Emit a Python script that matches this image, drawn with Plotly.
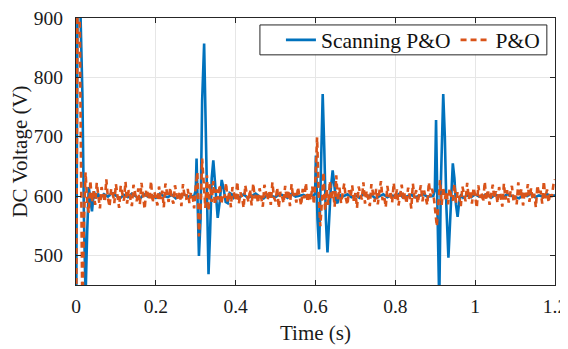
import plotly.graph_objects as go

# ---------------- data ----------------
# Scanning P&O (blue, solid): explicit time / voltage samples
scan_t_start = [0, 0.004, 0.008, 0.012, 0.016, 0.020, 0.024, 0.028, 0.032, 0.036, 0.040, 0.045, 0.050, 0.055]
scan_v_start = [300, 980, 1000, 900, 772, 560, 430, 540, 615, 595, 574, 608, 596, 604]

scan_t_flat1 = [0.06, 0.07, 0.08, 0.09, 0.10, 0.11, 0.12, 0.13, 0.14, 0.15, 0.16, 0.17,
                0.18, 0.19, 0.20, 0.21, 0.22, 0.23, 0.24, 0.25, 0.26, 0.27, 0.28, 0.29]
scan_v_flat1 = [597, 603, 599, 605, 601, 596, 602, 598, 604, 600, 595, 603,
                599, 601, 597, 604, 600, 598, 602, 596, 601, 603, 599, 600]

scan_t_tr1 = [0.296, 0.300, 0.302, 0.305, 0.308, 0.312, 0.316, 0.321, 0.325, 0.329, 0.332, 0.336,
              0.340, 0.344, 0.348, 0.352, 0.355, 0.360, 0.365, 0.370, 0.375, 0.380, 0.385, 0.390, 0.395]
scan_v_tr1 = [600, 610, 663, 580, 499, 560, 760, 857, 720, 520, 468, 540,
              630, 660, 620, 575, 563, 590, 627, 612, 590, 588, 605, 603, 597]

scan_t_flat2 = [0.40, 0.41, 0.42, 0.43, 0.44, 0.45, 0.46, 0.47, 0.48, 0.49,
                0.50, 0.51, 0.52, 0.53, 0.54, 0.55, 0.56, 0.57, 0.58, 0.59]
scan_v_flat2 = [601, 598, 603, 597, 600, 604, 599, 596, 602, 600,
                598, 603, 601, 597, 604, 599, 600, 602, 598, 601]

scan_t_tr2 = [0.595, 0.599, 0.601, 0.605, 0.609, 0.613, 0.618, 0.622, 0.626, 0.630, 0.634, 0.638,
              0.643, 0.648, 0.652, 0.655, 0.660, 0.665]
scan_v_tr2 = [600, 605, 668, 560, 510, 640, 772, 680, 560, 505, 560, 610,
              643, 615, 590, 588, 603, 598]

scan_t_flat3 = [0.67, 0.68, 0.69, 0.70, 0.71, 0.72, 0.73, 0.74, 0.75, 0.76, 0.77, 0.78,
                0.79, 0.80, 0.81, 0.82, 0.83, 0.84, 0.85, 0.86, 0.87, 0.88, 0.89]
scan_v_flat3 = [600, 603, 598, 601, 597, 604, 599, 602, 596, 600, 603, 598,
                601, 599, 604, 597, 600, 602, 598, 601, 603, 599, 600]

scan_t_tr3 = [0.895, 0.899, 0.902, 0.906, 0.910, 0.914, 0.920, 0.924, 0.928, 0.933, 0.937, 0.940,
              0.944, 0.948, 0.952, 0.956, 0.960, 0.965, 0.970]
scan_v_tr3 = [600, 610, 728, 560, 420, 620, 772, 700, 580, 496, 560, 620,
              655, 630, 585, 565, 590, 603, 597]

scan_t_flat4 = [0.98, 0.99, 1.00, 1.01, 1.02, 1.03, 1.04, 1.05, 1.06, 1.07, 1.08, 1.09,
                1.10, 1.11, 1.12, 1.13, 1.14, 1.15, 1.16, 1.17, 1.18, 1.19, 1.20]
scan_v_flat4 = [601, 598, 603, 599, 600, 604, 597, 602, 600, 598, 603, 601,
                599, 596, 602, 600, 604, 598, 601, 599, 603, 600, 601]

# P&O (orange, dashed): samples every 4 ms from 0 to 1.2 s
po_step = 0.004
po_v_start = [300, 1000, 1000, 700, 400, 560, 640, 588, 572, 626, 590]
po_v_noise1 = [608, 585, 622, 597, 579, 615, 603, 590, 628, 596,
               582, 612, 606, 588, 620, 594, 580, 617, 601, 592,
               624, 587, 610, 599, 583, 619, 605, 591, 613, 586,
               622, 598, 578, 611, 604, 593, 625, 589, 607, 600,
               584, 616, 595, 609, 581, 621, 602, 590, 614, 596,
               587, 618, 603, 592, 608, 583, 620, 599, 594, 612,
               588, 606, 601, 579, 617]
po_v_tr1 = [640, 532, 575, 663, 610, 580, 635, 575, 620, 590, 625, 585]
po_v_noise2 = [611, 594, 619, 586, 603, 597, 622, 589, 608, 581,
               615, 600, 592, 624, 587, 606, 598, 580, 618, 603,
               590, 611, 584, 621, 596, 605, 588, 613, 599, 582,
               619, 602, 593, 609, 585, 623, 597, 591, 614, 580,
               607, 600, 588, 617, 594, 610, 583, 620, 598, 605,
               589, 615, 601, 584, 612, 596, 622, 590, 607, 593,
               616, 586]
po_v_tr2 = [630, 699, 600, 549, 590, 640, 575, 612, 585, 625, 595, 608, 582, 635, 592]
po_v_noise3 = [614, 588, 603, 621, 596, 585, 610, 599, 618, 591,
               605, 580, 616, 602, 594, 623, 587, 609, 597, 583,
               620, 604, 590, 612, 586, 607, 625, 593, 600, 581,
               617, 598, 608, 589, 622, 595, 611, 584, 603, 619,
               592, 606, 587, 614, 600, 579, 621, 596, 610, 588,
               604, 618, 591, 609, 597, 585, 623, 599, 612]
po_v_tr3 = [600, 575, 549, 590, 627, 585, 615, 595, 608]
po_v_noise4 = [586, 613, 600, 592, 620, 589, 607, 598, 583, 616,
               604, 591, 622, 595, 609, 587, 614, 601, 580, 618,
               597, 606, 590, 624, 593, 611, 585, 603, 619, 596,
               608, 588, 615, 600, 582, 621, 594, 610, 589, 605,
               617, 592, 601, 586, 623, 598, 612, 584, 607, 599,
               620, 590, 613, 595, 604, 581, 618, 602, 609, 587,
               625, 596, 611, 589, 606, 598, 619, 628]

x_ticks = [0, 0.2, 0.4, 0.6, 0.8, 1.0, 1.2]
x_tick_labels = ["0", "0.2", "0.4", "0.6", "0.8", "1", "1.2"]
y_ticks = [500, 600, 700, 800, 900]
y_tick_labels = ["500", "600", "700", "800", "900"]

# ---------------- assemble ----------------
scan_t = scan_t_start + scan_t_flat1 + scan_t_tr1 + scan_t_flat2 + scan_t_tr2 + scan_t_flat3 + scan_t_tr3 + scan_t_flat4
scan_v = scan_v_start + scan_v_flat1 + scan_v_tr1 + scan_v_flat2 + scan_v_tr2 + scan_v_flat3 + scan_v_tr3 + scan_v_flat4

po_v = po_v_start + po_v_noise1 + po_v_tr1 + po_v_noise2 + po_v_tr2 + po_v_noise3 + po_v_tr3 + po_v_noise4
po_t = [round(i * po_step, 4) for i in range(len(po_v))]

BLUE = "#0072BD"
ORANGE = "#D95319"
AXC = "#262626"
TXT = "#1a1a1a"
FONT = '"Liberation Serif", "Times New Roman", serif'

fig = go.Figure()
fig.add_trace(go.Scatter(x=scan_t, y=scan_v, mode="lines", name="Scanning P&O",
                         line=dict(color=BLUE, width=2.6)))
fig.add_trace(go.Scatter(x=po_t, y=po_v, mode="lines", name="P&O",
                         line=dict(color=ORANGE, width=2.6, dash="6px,4px")))

axis_common = dict(
    showline=True, linecolor=AXC, linewidth=1, mirror="ticks",
    ticks="inside", ticklen=5, tickcolor=AXC, tickwidth=1,
    showgrid=True, gridcolor="#E6E6E6", gridwidth=1,
    zeroline=False, automargin=False,
    tickfont=dict(family=FONT, size=19.5, color=TXT),
    title_font=dict(family=FONT, size=21, color=TXT),
)

fig.update_xaxes(range=[0, 1.2], tickvals=x_ticks, ticktext=x_tick_labels,
                 ticklabelstandoff=4,
                 title_text="Time (s)", title_standoff=8, **axis_common)
fig.update_yaxes(range=[450, 900], tickvals=y_ticks, ticktext=y_tick_labels,
                 ticklabelstandoff=8, ticklabeloverflow="allow",
                 title_text="DC Voltage (V)", title_standoff=0, **axis_common)

# legend frame (matches the boxed legend of the reference)
fig.add_shape(type="rect", xref="paper", yref="paper",
              x0=0.384, x1=0.983, y0=0.862, y1=0.974,
              line=dict(color=AXC, width=1), fillcolor="white", layer="above")

# the page body has an 8px margin, so the figure is 8px smaller and margins are offset
fig.update_layout(
    width=560, height=341,
    margin=dict(l=68, r=13, t=10, b=64),
    paper_bgcolor="white", plot_bgcolor="white",
    font=dict(family=FONT, size=21, color=TXT),
    showlegend=True,
    legend=dict(orientation="h", x=0.979, xanchor="right", y=0.918, yanchor="middle",
                bgcolor="rgba(0,0,0,0)", borderwidth=0,
                font=dict(family=FONT, size=21.5, color="#111111"),
                itemwidth=30, tracegroupgap=0),
)

fig.write_html("out.html")
